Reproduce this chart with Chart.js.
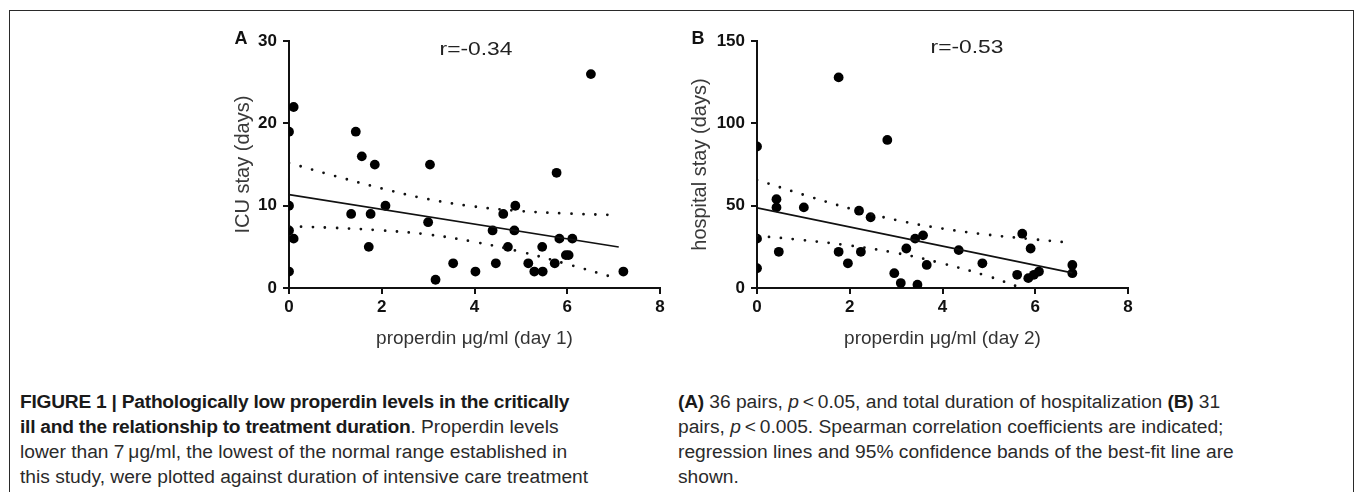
<!DOCTYPE html>
<html>
<head>
<meta charset="utf-8">
<script src="https://cdn.jsdelivr.net/npm/chart.js@4.4.1/dist/chart.umd.min.js"></script>
<style>
  html, body { margin: 0; padding: 0; background: #fff; overflow: hidden; }
  body { width: 1355px; height: 492px; position: relative; font-family: "Liberation Sans", Arial, sans-serif; }
  .frame { position: absolute; left: 9px; top: 10px; width: 1343px; height: 600px; border: 1.5px solid #2a2a2a; }
  .wrap { position: absolute; }
  .panel { position: absolute; font-weight: bold; font-size: 18px; color: #111; transform: translate(-50%, -50%); }
  .rval { position: absolute; font-size: 19px; color: #222; white-space: nowrap; transform: translate(-50%, -50%) scaleX(1.2); }
  .cap { position: absolute; top: 389px; font-size: 19.2px; line-height: 25px; color: #2a2a2a; white-space: nowrap; }
  .cap b { color: #1a1a1a; letter-spacing: -0.25px; }
</style>
</head>
<body>
<div class="frame"></div>

<div class="wrap" style="left:228px; top:25px; width:452px; height:330px;"><canvas id="chartA"></canvas></div>
<div class="wrap" style="left:685px; top:25px; width:463px; height:330px;"><canvas id="chartB"></canvas></div>

<div class="panel" style="left:241px; top:38px;">A</div>
<div class="panel" style="left:698px; top:38px;">B</div>
<div class="rval" style="left:476px; top:49px;">r=-0.34</div>
<div class="rval" style="left:967px; top:47px;">r=-0.53</div>

<div class="cap" style="left:20px;">
  <b>FIGURE 1 | Pathologically low properdin levels in the critically<br>ill and the relationship to treatment duration</b>. Properdin levels<br>lower than 7&#8201;μg/ml, the lowest of the normal range established in<br>this study, were plotted against duration of intensive care treatment
</div>
<div class="cap" style="left:678px;">
  <b>(A)</b> 36 pairs, <i>p</i>&#8201;&lt;&#8201;0.05, and total duration of hospitalization <b>(B)</b> 31<br>pairs, <i>p</i>&#8201;&lt;&#8201;0.005. Spearman correlation coefficients are indicated;<br>regression lines and 95% confidence bands of the best-fit line are<br>shown.
</div>

<script>
// panel A: properdin day 1 vs ICU stay
const aX = [0, 0.1, 0, 0, 0.1, 0, 1.44, 1.57, 1.85, 1.34, 1.76, 1.72, 2.08, 3.04, 3.0, 3.16, 3.54, 4.02,
  4.39, 4.46, 4.62, 4.88, 4.86, 4.72, 5.16, 5.29, 5.47, 5.46, 5.77, 5.73, 5.83, 5.97, 6.03, 6.11, 6.51, 7.21];
const aY = [19, 22, 10, 7, 6, 2, 19, 16, 15, 9, 9, 5, 10, 15, 8, 1, 3, 2,
  7, 3, 9, 10, 7, 5, 3, 2, 2, 5, 14, 3, 6, 4, 4, 6, 26, 2];
const aFitX = [0, 7.11];
const aFitY = [11.34, 4.98];
const aBandX = [0, 1, 2, 3, 4, 5, 6, 7.11];
const aUpper = [15.2, 13.6, 12.1, 10.8, 9.9, 9.35, 9.05, 8.85];
const aLower = [7.5, 7.3, 7.0, 6.5, 5.6, 4.4, 2.9, 1.1];

// panel B: properdin day 2 vs hospital stay
const bX = [0, 0, 0, 0.42, 0.42, 0.47, 1.01, 1.76, 1.76, 1.96, 2.2, 2.24, 2.45, 2.81, 2.96, 3.1,
  3.22, 3.41, 3.58, 3.46, 3.66, 4.35, 4.86, 5.61, 5.72, 5.9, 5.85, 5.97, 6.08, 6.8, 6.8];
const bY = [86, 30, 12, 54, 49, 22, 49, 128, 22, 15, 47, 22, 43, 90, 9, 3,
  24, 30, 32, 2, 14, 23, 15, 8, 33, 24, 6, 8, 10, 14, 9];
const bFitX = [0, 6.8];
const bFitY = [48.7, 9.2];
const bBandX = [0, 1, 2, 3, 4, 5, 6, 6.8];
const bUpper = [65.7, 56.7, 48.3, 41.3, 36.1, 32.3, 29.5, 27.4];
const bLowerX = [0, 1, 2, 3, 4, 5, 5.65];
const bLower = [31.7, 29.1, 25.8, 21.3, 14.9, 7.0, 0.5];

const ink = "#111";
const tickFont = { family: "'Liberation Sans', Arial, sans-serif", size: 17, weight: "bold" };

function pts(xs, ys) {
  return xs.map((x, i) => ({ x: x, y: ys[i] }));
}

function makeChart(id, d) {
  return new Chart(document.getElementById(id), {
    type: "scatter",
    data: {
      datasets: [
        {
          data: pts(d.bandX, d.upper),
          showLine: true,
          borderColor: ink,
          borderWidth: 2.8,
          borderDash: [0, 12],
          borderCapStyle: "round",
          tension: 0.4,
          pointRadius: 0,
        },
        {
          data: pts(d.lowerX, d.lower),
          showLine: true,
          borderColor: ink,
          borderWidth: 2.8,
          borderDash: [0, 12],
          borderCapStyle: "round",
          tension: 0.4,
          pointRadius: 0,
        },
        {
          data: pts(d.fitX, d.fitY),
          showLine: true,
          borderColor: ink,
          borderWidth: 1.7,
          pointRadius: 0,
        },
        {
          data: pts(d.x, d.y),
          backgroundColor: "#000",
          borderWidth: 0,
          pointRadius: 4.9,
        },
      ],
    },
    options: {
      responsive: true,
      maintainAspectRatio: false,
      animation: false,
      layout: { padding: { top: d.padTop, right: 20, bottom: 0, left: 0 } },
      plugins: { legend: { display: false }, tooltip: { enabled: false } },
      scales: {
        x: {
          type: "linear",
          min: 0,
          max: 8,
          ticks: { stepSize: 2, color: ink, font: tickFont, padding: 3 },
          grid: { drawOnChartArea: false, color: ink, lineWidth: 2, tickLength: 6 },
          border: { color: ink, width: 2 },
          title: {
            display: true,
            text: d.xTitle,
            color: "#333",
            font: { family: "'Liberation Sans', Arial, sans-serif", size: 19 },
            padding: { top: 0, bottom: 5 },
          },
          afterFit: (s) => { s.height = 67; },
        },
        y: {
          type: "linear",
          min: 0,
          max: d.yMax,
          ticks: { stepSize: d.yStep, color: ink, font: tickFont, padding: 6 },
          grid: { drawOnChartArea: false, color: ink, lineWidth: 2, tickLength: 6 },
          border: { color: ink, width: 2 },
          title: {
            display: true,
            text: d.yTitle,
            color: "#3a3a3a",
            font: { family: "'Liberation Sans', Arial, sans-serif", size: 20, lineHeight: 1.2 },
            padding: { top: 3, bottom: 0 },
          },
          afterFit: (s) => { s.width = d.yWidth; },
        },
      },
    },
  });
}

makeChart("chartA", {
  x: aX, y: aY, fitX: aFitX, fitY: aFitY,
  bandX: aBandX, upper: aUpper, lowerX: aBandX, lower: aLower,
  yMax: 30, yStep: 10, yWidth: 61, padTop: 16,
  xTitle: "properdin μg/ml (day 1)", yTitle: "ICU stay (days)",
});

makeChart("chartB", {
  x: bX, y: bY, fitX: bFitX, fitY: bFitY,
  bandX: bBandX, upper: bUpper, lowerX: bLowerX, lower: bLower,
  yMax: 150, yStep: 50, yWidth: 72, padTop: 15,
  xTitle: "properdin μg/ml (day 2)", yTitle: "hospital stay (days)",
});
</script>
</body>
</html>
